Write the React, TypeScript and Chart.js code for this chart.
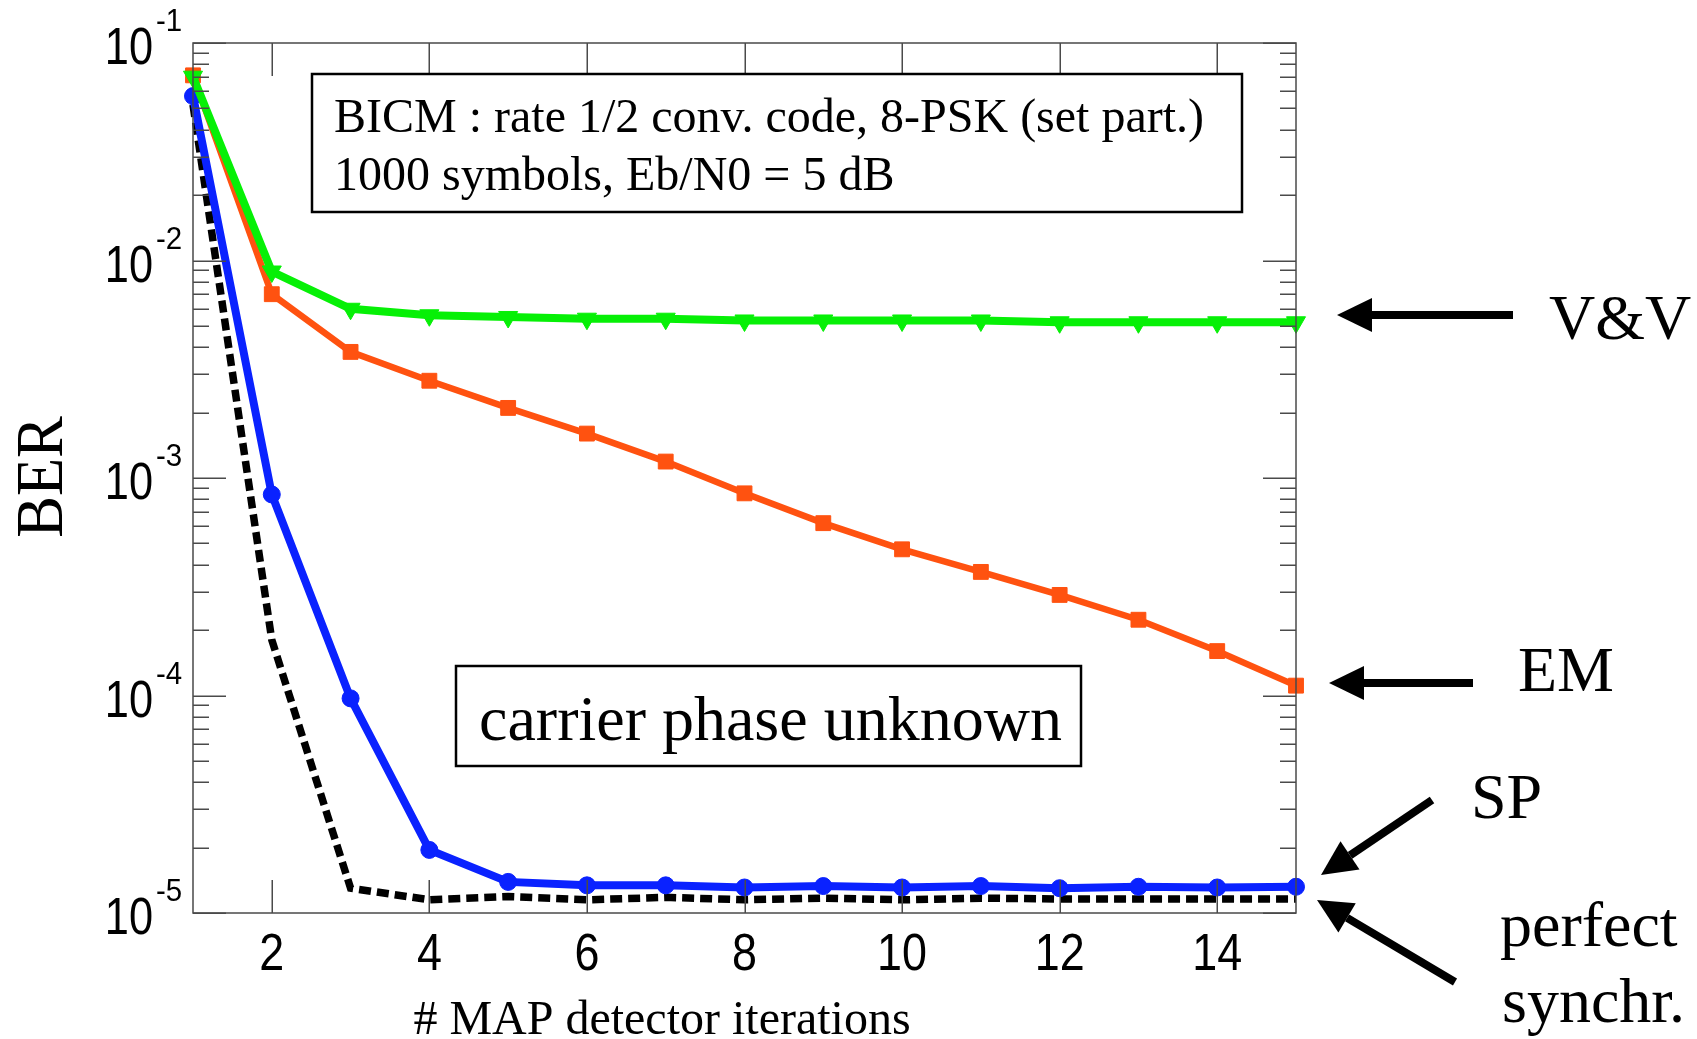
import React, { useEffect, useRef } from "react";
import { Chart, registerables } from "chart.js";

Chart.register(...registerables);

// ---------- data ----------
const iterations = [1, 2, 3, 4, 5, 6, 7, 8, 9, 10, 11, 12, 13, 14, 15];
const berVV = [0.07, 0.0089, 0.006, 0.0056, 0.0055, 0.0054, 0.0054, 0.0053, 0.0053, 0.0053, 0.0053, 0.0052, 0.0052, 0.0052, 0.0052];
const berEM = [0.071, 0.007, 0.0038, 0.0028, 0.0021, 0.0016, 0.00119, 0.00085, 0.00062, 0.00047, 0.00037, 0.00029, 0.000223, 0.00016, 0.000111];
const berSP = [0.057, 0.00084, 0.000097, 0.0000195, 0.0000139, 0.0000134, 0.0000134, 0.0000131, 0.0000133, 0.0000131, 0.0000133, 0.000013, 0.0000132, 0.0000131, 0.0000132];
const berPerfect = [0.052, 0.00018, 0.000013, 0.0000115, 0.0000119, 0.0000115, 0.0000118, 0.0000115, 0.0000117, 0.0000115, 0.0000117, 0.0000116, 0.0000116, 0.0000116, 0.0000116];

const yDecadeExps = [-1, -2, -3, -4, -5];
const xTickValues = [2, 4, 6, 8, 10, 12, 14];
const boxLines = ["BICM : rate 1/2 conv. code, 8-PSK (set part.)", "1000 symbols, Eb/N0 = 5 dB"];
const conditionLabel = "carrier phase unknown";
const xTitle = "# MAP detector iterations";
const yTitle = "BER";
const seriesNames = ["V&V", "EM", "SP", "perfect synchr."];

const GREEN = "#06f006";
const ORANGE = "#ff5210";
const BLUE = "#0a22ff";
const BLACK = "#000000";

const SERIF = "'Liberation Serif', 'Times New Roman', serif";
const SANS = "'Liberation Sans', Arial, sans-serif";

function drawText(
  ctx: CanvasRenderingContext2D,
  text: string,
  family: string,
  size: number,
  x: number,
  y: number,
  align: "left" | "center" | "right" = "left",
  sx = 1
) {
  ctx.save();
  ctx.font = `${size}px ${family}`;
  ctx.textBaseline = "alphabetic";
  ctx.textAlign = "left";
  const w = ctx.measureText(text).width * sx;
  let x0 = x;
  if (align === "center") x0 = x - w / 2;
  else if (align === "right") x0 = x - w;
  ctx.translate(x0, y);
  ctx.scale(sx, 1);
  ctx.fillStyle = "#000";
  ctx.fillText(text, 0, 0);
  ctx.restore();
}

function drawArrow(
  ctx: CanvasRenderingContext2D,
  x1: number,
  y1: number,
  x2: number,
  y2: number,
  headLen = 35,
  headHalf = 17,
  lw = 8
) {
  const ang = Math.atan2(y2 - y1, x2 - x1);
  const bx = x2 - headLen * Math.cos(ang);
  const by = y2 - headLen * Math.sin(ang);
  ctx.save();
  ctx.strokeStyle = "#000";
  ctx.fillStyle = "#000";
  ctx.lineWidth = lw;
  ctx.lineCap = "butt";
  ctx.beginPath();
  ctx.moveTo(x1, y1);
  ctx.lineTo(bx, by);
  ctx.stroke();
  ctx.beginPath();
  ctx.moveTo(x2, y2);
  ctx.lineTo(bx + headHalf * Math.sin(ang), by - headHalf * Math.cos(ang));
  ctx.lineTo(bx - headHalf * Math.sin(ang), by + headHalf * Math.cos(ang));
  ctx.closePath();
  ctx.fill();
  ctx.restore();
}

const whiteBg = {
  id: "whiteBg",
  beforeDraw(chart: any) {
    const c = chart.ctx;
    c.save();
    c.fillStyle = "#fff";
    c.fillRect(0, 0, chart.width, chart.height);
    c.restore();
  },
};

const framePlugin = {
  id: "frame",
  afterDatasetsDraw(chart: any) {
    const ctx: CanvasRenderingContext2D = chart.ctx;
    const xs = chart.scales.x;
    const ys = chart.scales.y;
    const { left, right, top, bottom } = chart.chartArea;

    ctx.save();
    ctx.strokeStyle = "#4a4a4a";
    ctx.lineWidth = 1.5;
    ctx.strokeRect(left, top, right - left, bottom - top);

    // y ticks (major + minor), inward on both sides
    ctx.beginPath();
    for (const e of yDecadeExps) {
      for (let k = 1; k <= 9; k++) {
        const v = k * Math.pow(10, e);
        if (v > ys.max * 1.0001 || v < ys.min * 0.9999) continue;
        const py = Math.round(ys.getPixelForValue(v)) + 0.25;
        const len = k === 1 ? 33 : 16;
        ctx.moveTo(left, py);
        ctx.lineTo(left + len, py);
        ctx.moveTo(right, py);
        ctx.lineTo(right - len, py);
      }
    }
    // x ticks, inward top & bottom
    for (const v of xTickValues) {
      const px = Math.round(xs.getPixelForValue(v)) + 0.25;
      ctx.moveTo(px, bottom);
      ctx.lineTo(px, bottom - 33);
      ctx.moveTo(px, top);
      ctx.lineTo(px, top + 33);
    }
    ctx.stroke();
    ctx.restore();

    // y tick labels 10^e
    for (const e of yDecadeExps) {
      const py = ys.getPixelForValue(Math.pow(10, e));
      drawText(ctx, "10", SANS, 51, 153, py + 21, "right", 0.85);
      drawText(ctx, String(e), SANS, 31, 156, py - 12, "left", 0.95);
    }
    // x tick labels
    for (const v of xTickValues) {
      const px = xs.getPixelForValue(v);
      drawText(ctx, String(v), SANS, 51, px, 970, "center", 0.88);
    }

    // axis titles
    drawText(ctx, xTitle, SERIF, 48, 662, 1034, "center");
    ctx.save();
    ctx.translate(62, 477);
    ctx.rotate(-Math.PI / 2);
    drawText(ctx, yTitle, SERIF, 68, 0, 0, "center", 0.92);
    ctx.restore();

    // info box
    ctx.save();
    ctx.fillStyle = "#fff";
    ctx.fillRect(312, 74, 930, 138);
    ctx.strokeStyle = "#000";
    ctx.lineWidth = 2.5;
    ctx.strokeRect(312, 74, 930, 138);
    ctx.restore();
    drawText(ctx, boxLines[0], SERIF, 48, 334, 132);
    drawText(ctx, boxLines[1], SERIF, 48, 334, 190);

    // condition box
    ctx.save();
    ctx.fillStyle = "#fff";
    ctx.fillRect(456, 666, 625, 100);
    ctx.strokeStyle = "#000";
    ctx.lineWidth = 2.5;
    ctx.strokeRect(456, 666, 625, 100);
    ctx.restore();
    drawText(ctx, conditionLabel, SERIF, 64, 479, 740);

    // series annotations with arrows
    drawArrow(ctx, 1513, 315, 1337, 315);
    drawText(ctx, seriesNames[0], SERIF, 64, 1549, 339);
    drawArrow(ctx, 1473, 683, 1329, 683);
    drawText(ctx, seriesNames[1], SERIF, 64, 1518, 691);
    drawArrow(ctx, 1432, 800, 1321, 875);
    drawText(ctx, seriesNames[2], SERIF, 64, 1471, 818);
    drawArrow(ctx, 1455, 982, 1317, 900);
    const [w1, w2] = seriesNames[3].split(" ");
    drawText(ctx, w1, SERIF, 64, 1500, 946);
    drawText(ctx, w2, SERIF, 64, 1502, 1022);
  },
};

function pts(values: number[]) {
  return iterations.map((x, i) => ({ x, y: values[i] }));
}

export default function App() {
  const ref = useRef<HTMLCanvasElement | null>(null);
  useEffect(() => {
    if (!ref.current) return;
    const chart = new Chart(ref.current, {
      type: "line",
      data: {
        datasets: [
          {
            label: seriesNames[0],
            data: pts(berVV),
            borderColor: GREEN,
            backgroundColor: GREEN,
            borderWidth: 8,
            pointStyle: "triangle",
            pointRotation: 180,
            pointRadius: 11,
            pointBorderWidth: 1,
            clip: false,
          } as any,
          {
            label: seriesNames[1],
            data: pts(berEM),
            borderColor: ORANGE,
            backgroundColor: ORANGE,
            borderWidth: 6.5,
            pointStyle: "rect",
            pointRadius: 10.5,
            pointBorderWidth: 1,
            clip: false,
          },
          {
            label: seriesNames[2],
            data: pts(berSP),
            borderColor: BLUE,
            backgroundColor: BLUE,
            borderWidth: 8,
            pointStyle: "circle",
            pointRadius: 8.5,
            pointBorderWidth: 1,
            clip: false,
          },
          {
            label: seriesNames[3],
            data: pts(berPerfect),
            borderColor: BLACK,
            backgroundColor: BLACK,
            borderWidth: 7.5,
            borderDash: [12, 6],
            borderCapStyle: "butt",
            pointRadius: 0,
            clip: false,
          },
        ],
      },
      options: {
        responsive: false,
        animation: false,
        devicePixelRatio: 1,
        layout: { padding: { left: 193, top: 43, right: 401, bottom: 126 } },
        plugins: { legend: { display: false }, tooltip: { enabled: false } },
        elements: { line: { tension: 0 } },
        scales: {
          x: { type: "linear", min: 1, max: 15, display: false },
          y: { type: "logarithmic", min: 1e-5, max: 1e-1, display: false },
        },
      },
      plugins: [whiteBg, framePlugin],
    });
    return () => chart.destroy();
  }, []);

  return (
    <div style={{ position: "absolute", left: 0, top: 0, width: 1697, height: 1039, background: "#fff" }}>
      <canvas ref={ref} width={1697} height={1039} style={{ width: 1697, height: 1039, display: "block" }} />
    </div>
  );
}
